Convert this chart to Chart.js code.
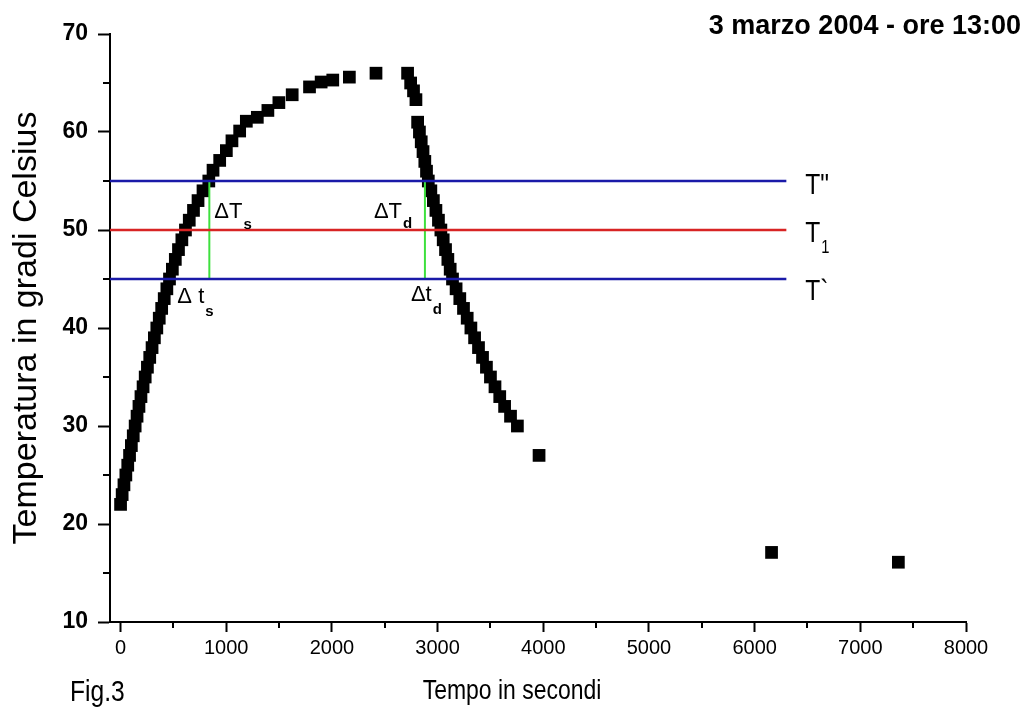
<!DOCTYPE html>
<html>
<head>
<meta charset="utf-8">
<script src="https://cdn.jsdelivr.net/npm/chart.js@4.4.1/dist/chart.umd.min.js"></script>
<style>
  html, body { margin: 0; padding: 0; background: #fff; }
  #wrap { width: 1026px; height: 715px; }
</style>
</head>
<body>
<div id="wrap"><canvas id="tempChart" width="1026" height="715"></canvas></div>
<script>
// Fig.3 - temperature readings
const timeSec = [
    0, 15, 32, 50, 68, 85, 102, 120, 138, 156, 174, 193, 213, 233, 254, 276, 298,
    320, 343, 366, 389, 413, 438, 463, 490, 518, 548, 580, 614, 650, 690, 733, 780, 835,
    875, 938, 1001, 1054, 1127, 1190, 1294, 1394, 1498, 1624, 1788, 1898, 2008, 2165, 2417,
    2716, 2745, 2772, 2795,
    2811, 2828, 2845, 2862, 2879, 2895, 2912, 2936, 2960, 2984, 3008, 3031, 3053, 3075,
    3097, 3119, 3141, 3175, 3210, 3245, 3280, 3315, 3350, 3387, 3425, 3462, 3500, 3543,
    3588, 3634, 3690, 3755,
    3960, 6160, 7360
];
const tempC = [
    22, 23, 24, 25, 26, 27, 28, 29, 30, 31, 32, 33, 34, 35, 36, 37, 38,
    39, 40, 41, 42, 43, 44, 45, 46, 47, 48, 49, 50, 51, 52, 53, 54, 55,
    56.1, 57.1, 58.1, 59.1, 60.1, 61.1, 61.5, 62.2, 63.0, 63.8, 64.6, 65.1, 65.3, 65.6, 66.0,
    66.0, 65.0, 64.2, 63.3,
    61, 60, 59, 58, 57, 56, 55, 54, 53, 52, 51, 50, 49, 48,
    47, 46, 45, 44, 43, 42, 41, 40, 39, 38, 37, 36, 35, 34,
    33, 32, 31, 30,
    27.0, 17.1, 16.1
];

// reference temperatures T'', T1, T`
const levelTemps = [55, 50, 45];
const levelNames = ['T"', 'T', 'T`'];
const levelColors = ['#1a1aa8', '#d82424', '#1a1aa8'];
const levelStart = -100;
const levelEnd = 6300;

// times of the two green delta segments (rise / fall)
const deltaTimes = [840, 2880];

const xTickValues = [0, 500, 1000, 1500, 2000, 2500, 3000, 3500, 4000, 4500, 5000, 5500, 6000, 6500, 7000, 7500, 8000];
const yTickValues = [10, 15, 20, 25, 30, 35, 40, 45, 50, 55, 60, 65, 70];

const SANS = "'Liberation Sans', Arial, sans-serif";

const isMajorX = v => v % 1000 === 0;
const isMajorY = v => v % 10 === 0;

const datasets = [{
    label: 'Temperatura',
    data: timeSec.map((t, i) => ({ x: t, y: tempC[i] })),
    pointStyle: 'rect',
    pointRadius: 9,
    pointBorderWidth: 0,
    backgroundColor: '#000',
    borderColor: '#000',
    showLine: false,
    order: 2
}];

levelTemps.forEach((lv, i) => {
    datasets.push({
        data: [{ x: levelStart, y: lv }, { x: levelEnd, y: lv }],
        showLine: true,
        borderColor: levelColors[i],
        borderWidth: 2.5,
        pointRadius: 0,
        order: 1
    });
});

deltaTimes.forEach(t => {
    datasets.push({
        data: [{ x: t, y: levelTemps[2] }, { x: t, y: levelTemps[0] }],
        showLine: true,
        borderColor: '#3ee03e',
        borderWidth: 2,
        pointRadius: 0,
        order: 1
    });
});

// short minor ticks (grid only draws the majors)
const minorTicks = {
    id: 'minorTicks',
    afterDraw(chart) {
        const { ctx, chartArea, scales } = chart;
        ctx.save();
        ctx.strokeStyle = '#000';
        ctx.lineWidth = 2;
        xTickValues.filter(v => !isMajorX(v)).forEach(v => {
            const px = Math.round(scales.x.getPixelForValue(v));
            ctx.beginPath();
            ctx.moveTo(px, chartArea.bottom);
            ctx.lineTo(px, chartArea.bottom + 6);
            ctx.stroke();
        });
        yTickValues.filter(v => !isMajorY(v)).forEach(v => {
            const py = Math.round(scales.y.getPixelForValue(v));
            ctx.beginPath();
            ctx.moveTo(chartArea.left, py);
            ctx.lineTo(chartArea.left - 7, py);
            ctx.stroke();
        });
        ctx.restore();
    }
};

// the original uses a condensed face; squeeze regular text horizontally
function narrowText(ctx, text, x, y, font, align) {
    ctx.save();
    ctx.font = font;
    ctx.textAlign = align || 'left';
    ctx.translate(x, y);
    ctx.scale(0.82, 1);
    ctx.fillText(text, 0, 0);
    const w = ctx.measureText(text).width * 0.82;
    ctx.restore();
    return w;
}

function drawSub(ctx, x, y, main, sub, mainFont, subFont, subDy) {
    ctx.font = mainFont;
    ctx.fillText(main, x, y);
    const w = ctx.measureText(main).width;
    ctx.font = subFont;
    ctx.fillText(sub, x + w + 1, y + subDy);
}

// title, captions and the T / delta labels
const labels = {
    id: 'labels',
    afterDraw(chart) {
        const { ctx, scales } = chart;
        const xs = scales.x, ys = scales.y;
        ctx.save();
        ctx.fillStyle = '#000';
        ctx.textBaseline = 'alphabetic';

        ctx.textAlign = 'right';
        ctx.font = 'bold 27px ' + SANS;
        ctx.fillText('3 marzo 2004 - ore 13:00', 1021, 34);

        narrowText(ctx, 'Tempo in secondi', 512, 699, '28px ' + SANS, 'center');
        narrowText(ctx, 'Fig.3', 70, 701, '30px ' + SANS, 'left');

        // level names at the right end of the lines
        const lx = xs.getPixelForValue(levelEnd) + 19;
        const tf = '30px ' + SANS;
        narrowText(ctx, levelNames[0], lx, ys.getPixelForValue(levelTemps[0]) + 13, tf);
        const w1 = narrowText(ctx, levelNames[1], lx, ys.getPixelForValue(levelTemps[1]) + 12, tf);
        narrowText(ctx, '1', lx + w1 + 1, ys.getPixelForValue(levelTemps[1]) + 23, '18px ' + SANS);
        narrowText(ctx, levelNames[2], lx, ys.getPixelForValue(levelTemps[2]) + 21, tf);

        // delta labels next to the green segments
        ctx.textAlign = 'left';
        const gs = xs.getPixelForValue(deltaTimes[0]);
        const gd = xs.getPixelForValue(deltaTimes[1]);
        const yTop = ys.getPixelForValue(levelTemps[1]) - 12;
        const yBot = ys.getPixelForValue(levelTemps[2]) + 24;
        const mf = '22px ' + SANS, sf = 'bold 15px ' + SANS;
        drawSub(ctx, gs + 5, yTop, '\u0394T', 's', mf, sf, 11);
        drawSub(ctx, gd - 51, yTop, '\u0394T', 'd', mf, sf, 10);
        drawSub(ctx, gs - 32, yBot, '\u0394 t', 's', mf, sf, 13);
        drawSub(ctx, gd - 14, yBot - 2, '\u0394t', 'd', mf, sf, 13);
        ctx.restore();
    }
};

new Chart(document.getElementById('tempChart'), {
    type: 'scatter',
    data: { datasets: datasets },
    options: {
        responsive: false,
        animation: false,
        layout: { padding: { top: 34, right: 60, left: 0, bottom: 0 } },
        plugins: {
            legend: { display: false },
            tooltip: { enabled: false }
        },
        scales: {
            x: {
                type: 'linear',
                min: -100,
                max: 8000,
                afterFit: s => { s.height = 93; },
                afterBuildTicks: s => { s.ticks = xTickValues.map(v => ({ value: v })); },
                border: { display: true, color: '#000', width: 2 },
                grid: {
                    drawOnChartArea: false,
                    tickLength: 10,
                    tickWidth: 2,
                    color: c => (c.tick && isMajorX(c.tick.value)) ? '#000' : 'rgba(0,0,0,0)'
                },
                ticks: {
                    autoSkip: false,
                    maxRotation: 0,
                    padding: 4,
                    color: '#000',
                    font: { family: SANS, size: 20 },
                    callback: v => isMajorX(v) ? String(v) : ''
                }
            },
            y: {
                type: 'linear',
                min: 10,
                max: 70,
                afterFit: s => { s.width = 110; },
                afterBuildTicks: s => { s.ticks = yTickValues.map(v => ({ value: v })); },
                border: { display: true, color: '#000', width: 2 },
                grid: {
                    drawOnChartArea: false,
                    tickLength: 12,
                    tickWidth: 2,
                    color: c => (c.tick && isMajorY(c.tick.value)) ? '#000' : 'rgba(0,0,0,0)'
                },
                ticks: {
                    autoSkip: false,
                    padding: 10,
                    color: '#000',
                    font: { family: SANS, size: 23, weight: 'bold' },
                    callback: v => isMajorY(v) ? String(v) : ''
                },
                title: {
                    display: true,
                    text: 'Temperatura in gradi Celsius',
                    color: '#000',
                    font: { family: SANS, size: 34 },
                    padding: { top: 6, bottom: 0 }
                }
            }
        }
    },
    plugins: [minorTicks, labels]
});
</script>
</body>
</html>
